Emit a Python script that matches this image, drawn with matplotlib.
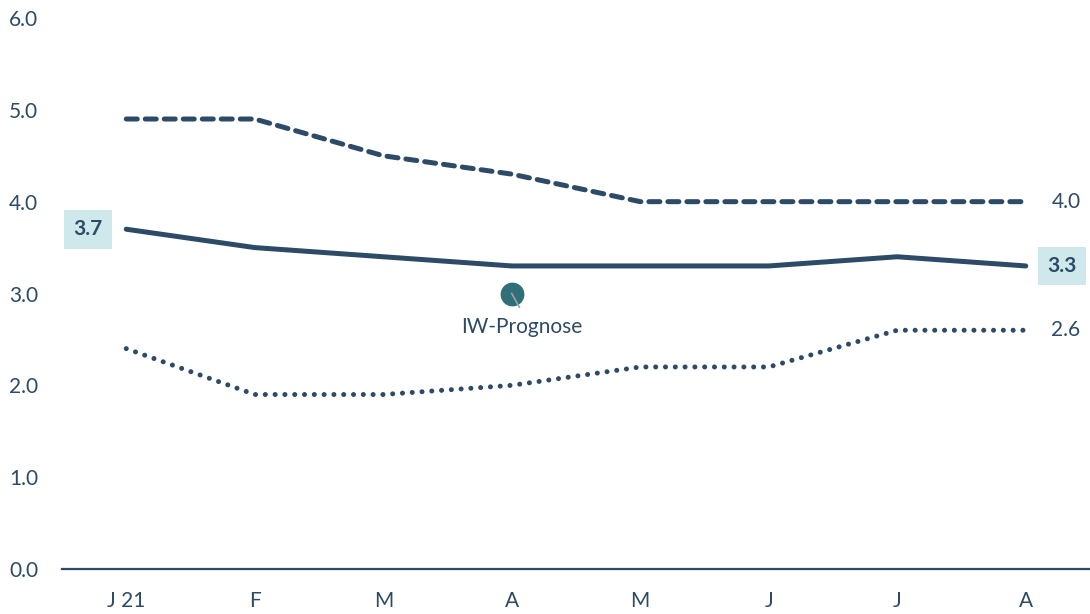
import matplotlib.pyplot as plt

plt.rcParams['font.family'] = ['Lato', 'DejaVu Sans']

months = ['J 21', 'F', 'M', 'A', 'M', 'J', 'J', 'A']
upper = [4.9, 4.9, 4.5, 4.3, 4.0, 4.0, 4.0, 4.0]
middle = [3.7, 3.5, 3.4, 3.3, 3.3, 3.3, 3.4, 3.3]
lower = [2.4, 1.9, 1.9, 2.0, 2.2, 2.2, 2.6, 2.6]
iw_x, iw_y = 3, 3.0

navy = '#2D4A66'
teal = '#2E6F7A'
box = '#CFE8EC'
x = list(range(len(months)))
fs = 15

fig = plt.figure(figsize=(10.9, 6.14), dpi=100)
ax = fig.add_axes([62 / 1090, 1 - 569 / 614, 1 - 62 / 1090, (569 - 18) / 614])

ax.plot(x, upper, color=navy, lw=3.6, ls=(0, (2.2, 1.6)), dash_capstyle='round', solid_capstyle='round')
ax.plot(x, middle, color=navy, lw=3.6, solid_capstyle='round')
ax.plot(x, lower, color=navy, lw=3.6, ls=(0, (0.01, 1.95)), dash_capstyle='round')

ax.plot([iw_x, iw_x + 0.06], [iw_y, iw_y - 0.15], color='#A0A0A0', lw=1.2, zorder=3)
ax.scatter([iw_x], [iw_y], s=260, color=teal, zorder=2)
ax.text(iw_x + 0.08, iw_y - 0.26, 'IW-Prognose', ha='center', va='top', fontsize=fs, color=navy)

ax.text(-0.3, middle[0], f'{middle[0]:.1f}', ha='center', va='center', fontsize=fs, fontweight='bold',
        color=navy, bbox=dict(boxstyle='square,pad=0.45', fc=box, ec='none'))
ax.text(7.28, middle[-1], f'{middle[-1]:.1f}', ha='center', va='center', fontsize=fs, fontweight='bold',
        color=navy, bbox=dict(boxstyle='square,pad=0.45', fc=box, ec='none'))
ax.text(7.2, upper[-1], f'{upper[-1]:.1f}', ha='left', va='center', fontsize=fs, color=navy)
ax.text(7.2, lower[-1], f'{lower[-1]:.1f}', ha='left', va='center', fontsize=fs, color=navy)

ax.set_xlim(-0.5, 7.5)
ax.set_ylim(0, 6)
ax.set_xticks(x)
ax.set_xticklabels(months)
ax.set_yticks([0, 1, 2, 3, 4, 5, 6])
ax.set_yticklabels([f'{v:.1f}' for v in range(7)])
ax.tick_params(length=0, labelsize=fs, colors=navy, pad=16)
ax.tick_params(axis='y', pad=17)
for s in ['top', 'right', 'left']:
    ax.spines[s].set_visible(False)
ax.spines['bottom'].set_color(navy)
ax.spines['bottom'].set_linewidth(1.6)
ax.patch.set_visible(False)

fig.savefig('out.png', dpi=100)
